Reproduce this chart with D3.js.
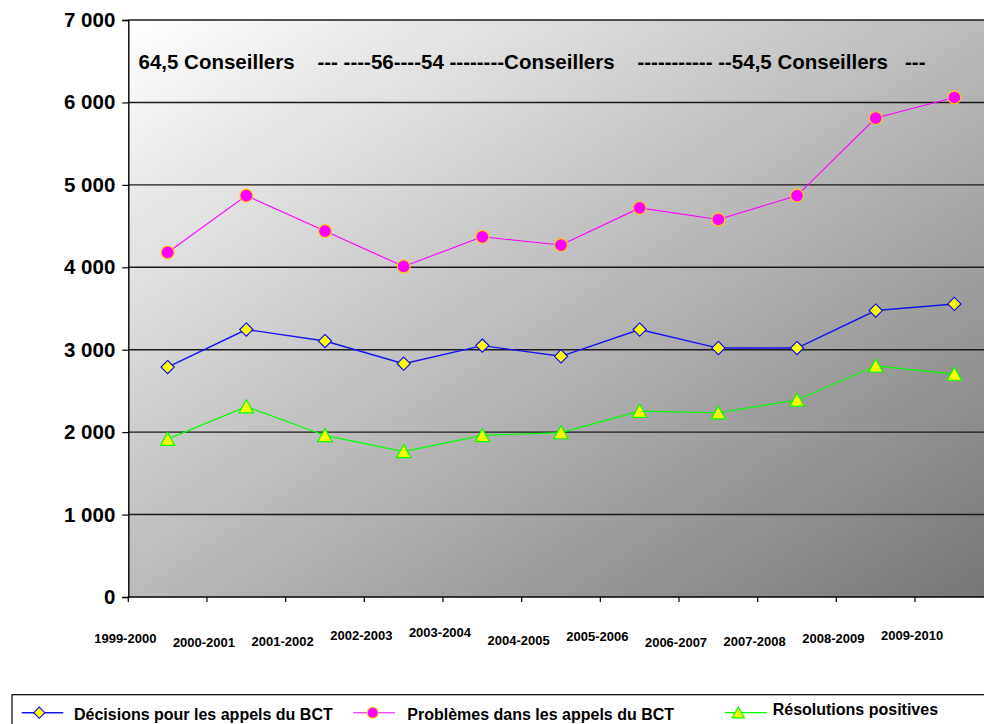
<!DOCTYPE html>
<html>
<head>
<meta charset="utf-8">
<script src="https://cdn.jsdelivr.net/npm/d3@7"></script>
<style>
  html, body { margin: 0; padding: 0; background: #ffffff; }
  svg { display: block; font-family: "Liberation Sans", Arial, sans-serif; }
</style>
</head>
<body>
<svg id="chart" width="984" height="724"></svg>
<script>
// ---------- DATA ----------
const categories = ["1999-2000","2000-2001","2001-2002","2002-2003","2003-2004","2004-2005",
                    "2005-2006","2006-2007","2007-2008","2008-2009","2009-2010"];
const decisions   = [2790, 3245, 3105, 2830, 3050, 2920, 3245, 3020, 3020, 3475, 3555];
const problemes   = [4180, 4870, 4440, 4010, 4370, 4270, 4720, 4580, 4870, 5810, 6060];
const resolutions = [1915, 2310, 1960, 1765, 1960, 1995, 2255, 2235, 2390, 2805, 2705];
const yTicks = [0, 1000, 2000, 3000, 4000, 5000, 6000, 7000];
const seriesNames = ["Décisions pour les appels du BCT", "Problèmes dans les appels du BCT", "Résolutions positives"];
const annotationText = "64,5 Conseillers    --- ----56----54 --------Conseillers    ----------- --54,5 Conseillers   ---";

// ---------- LAYOUT ----------
const plot = { left: 128.3, right: 993.7, top: 20, bottom: 597 };
const labelBaselines = [643, 647, 646, 640, 637, 645, 641, 647, 646, 643, 640];

const svg = d3.select("#chart");

const x = d3.scaleBand().domain(categories).range([plot.left, plot.right]).padding(0);
const cx = c => x(c) + x.bandwidth() / 2;
const y = d3.scaleLinear().domain([0, 7000]).range([plot.bottom, plot.top]);

const loc = d3.formatLocale({ decimal: ",", thousands: " ", grouping: [3], currency: ["", " €"] });
const fmt = loc.format(",");

// background gradient
const defs = svg.append("defs");
const grad = defs.append("linearGradient").attr("id", "bg")
  .attr("x1", 0).attr("y1", 0).attr("x2", 1).attr("y2", 1);
grad.append("stop").attr("offset", "0%").attr("stop-color", "#ffffff");
grad.append("stop").attr("offset", "100%").attr("stop-color", "#767676");

svg.append("rect")
  .attr("x", plot.left).attr("y", plot.top)
  .attr("width", plot.right - plot.left).attr("height", plot.bottom - plot.top)
  .attr("fill", "url(#bg)");

// gridlines
svg.append("g").selectAll("line").data(yTicks.filter(d => d > 0)).join("line")
  .attr("x1", plot.left).attr("x2", plot.right)
  .attr("y1", d => y(d)).attr("y2", d => y(d))
  .attr("stroke", "#1a1a1a").attr("stroke-width", 1.4);

// y axis
const yAxis = svg.append("g").attr("transform", `translate(${plot.left},0)`)
  .call(d3.axisLeft(y).tickValues(yTicks).tickSize(6).tickPadding(7).tickFormat(fmt));
yAxis.select(".domain").attr("stroke", "#000").attr("stroke-width", 1.4);
yAxis.selectAll(".tick line").attr("stroke", "#000").attr("stroke-width", 1.2);
yAxis.selectAll(".tick text")
  .attr("font-size", "20.5px").attr("font-weight", "bold").attr("fill", "#000")
  .attr("font-family", "'Liberation Sans', Arial, sans-serif");

// x axis line and ticks at category boundaries
svg.append("line")
  .attr("x1", plot.left).attr("x2", plot.right)
  .attr("y1", plot.bottom).attr("y2", plot.bottom)
  .attr("stroke", "#000").attr("stroke-width", 1.4);
const bounds = categories.map(c => x(c)).concat([plot.right]);
svg.append("g").selectAll("line").data(bounds).join("line")
  .attr("x1", d => d).attr("x2", d => d)
  .attr("y1", plot.bottom).attr("y2", plot.bottom + 5)
  .attr("stroke", "#000").attr("stroke-width", 1.2);

// x labels (staggered, placed at category start)
svg.append("g").selectAll("text").data(categories).join("text")
  .attr("x", d => x(d) - 3)
  .attr("y", (d, i) => labelBaselines[i])
  .attr("text-anchor", "middle")
  .attr("font-size", "13px").attr("font-weight", "bold").attr("fill", "#000")
  .text(d => d);

// annotation
svg.append("text")
  .attr("x", 138.5).attr("y", 69)
  .attr("font-size", "20.5px").attr("font-weight", "bold").attr("fill", "#000")
  .style("white-space", "pre")
  .attr("xml:space", "preserve")
  .text(annotationText);

// series
const series = [
  { name: seriesNames[0], values: decisions,   line: "#1414f0", width: 1.4, shape: "diamond" },
  { name: seriesNames[1], values: problemes,   line: "#ff00ff", width: 1.1, shape: "circle" },
  { name: seriesNames[2], values: resolutions, line: "#00ff00", width: 1.2, shape: "triangle" }
];

function drawMarker(g, shape, px, py, s) {
  if (shape === "diamond") {
    g.append("path")
      .attr("d", `M${px},${py - 6.6*s} L${px + 6.6*s},${py} L${px},${py + 6.6*s} L${px - 6.6*s},${py} Z`)
      .attr("fill", "#ffff00").attr("stroke", "#0000ff").attr("stroke-width", 1.1);
  } else if (shape === "circle") {
    g.append("circle").attr("cx", px).attr("cy", py).attr("r", 6.4*s)
      .attr("fill", "#ff00ff").attr("stroke", "#ffcc00").attr("stroke-width", 1.1);
  } else {
    g.append("path")
      .attr("d", `M${px},${py - 6.8*s} L${px + 7.2*s},${py + 6.2*s} L${px - 7.2*s},${py + 6.2*s} Z`)
      .attr("fill", "#ffff00").attr("stroke", "#00ff00").attr("stroke-width", 1.2);
  }
}

const lineGen = d3.line().x((d, i) => cx(categories[i])).y(d => y(d));
series.forEach(s => {
  svg.append("path").datum(s.values)
    .attr("d", lineGen).attr("fill", "none")
    .attr("stroke", s.line).attr("stroke-width", s.width);
});
series.forEach(s => {
  const g = svg.append("g");
  s.values.forEach((v, i) => drawMarker(g, s.shape, cx(categories[i]), y(v), 1));
});

// legend
svg.append("rect").attr("x", 12).attr("y", 694.7).attr("width", 1000).attr("height", 60)
  .attr("fill", "#fff").attr("stroke", "#000").attr("stroke-width", 1.2);

const legendItems = [
  { s: series[0], x1: 21.7, x2: 63.3, mx: 39.3, tx: 74,    ty: 720 },
  { s: series[1], x1: 353.3, x2: 395, mx: 372.7, tx: 407.3, ty: 720 },
  { s: series[2], x1: 725,  x2: 766.7, mx: 738.3, tx: 772.7, ty: 715 }
];
legendItems.forEach(it => {
  const g = svg.append("g");
  g.append("line").attr("x1", it.x1).attr("x2", it.x2).attr("y1", 712.7).attr("y2", 712.7)
    .attr("stroke", it.s.line).attr("stroke-width", it.s.width);
  drawMarker(g, it.s.shape, it.mx, 712.7, 0.85);
  g.append("text").attr("x", it.tx).attr("y", it.ty)
    .attr("font-size", "16px").attr("font-weight", "bold").attr("fill", "#000")
    .text(it.s.name);
});
</script>
</body>
</html>
